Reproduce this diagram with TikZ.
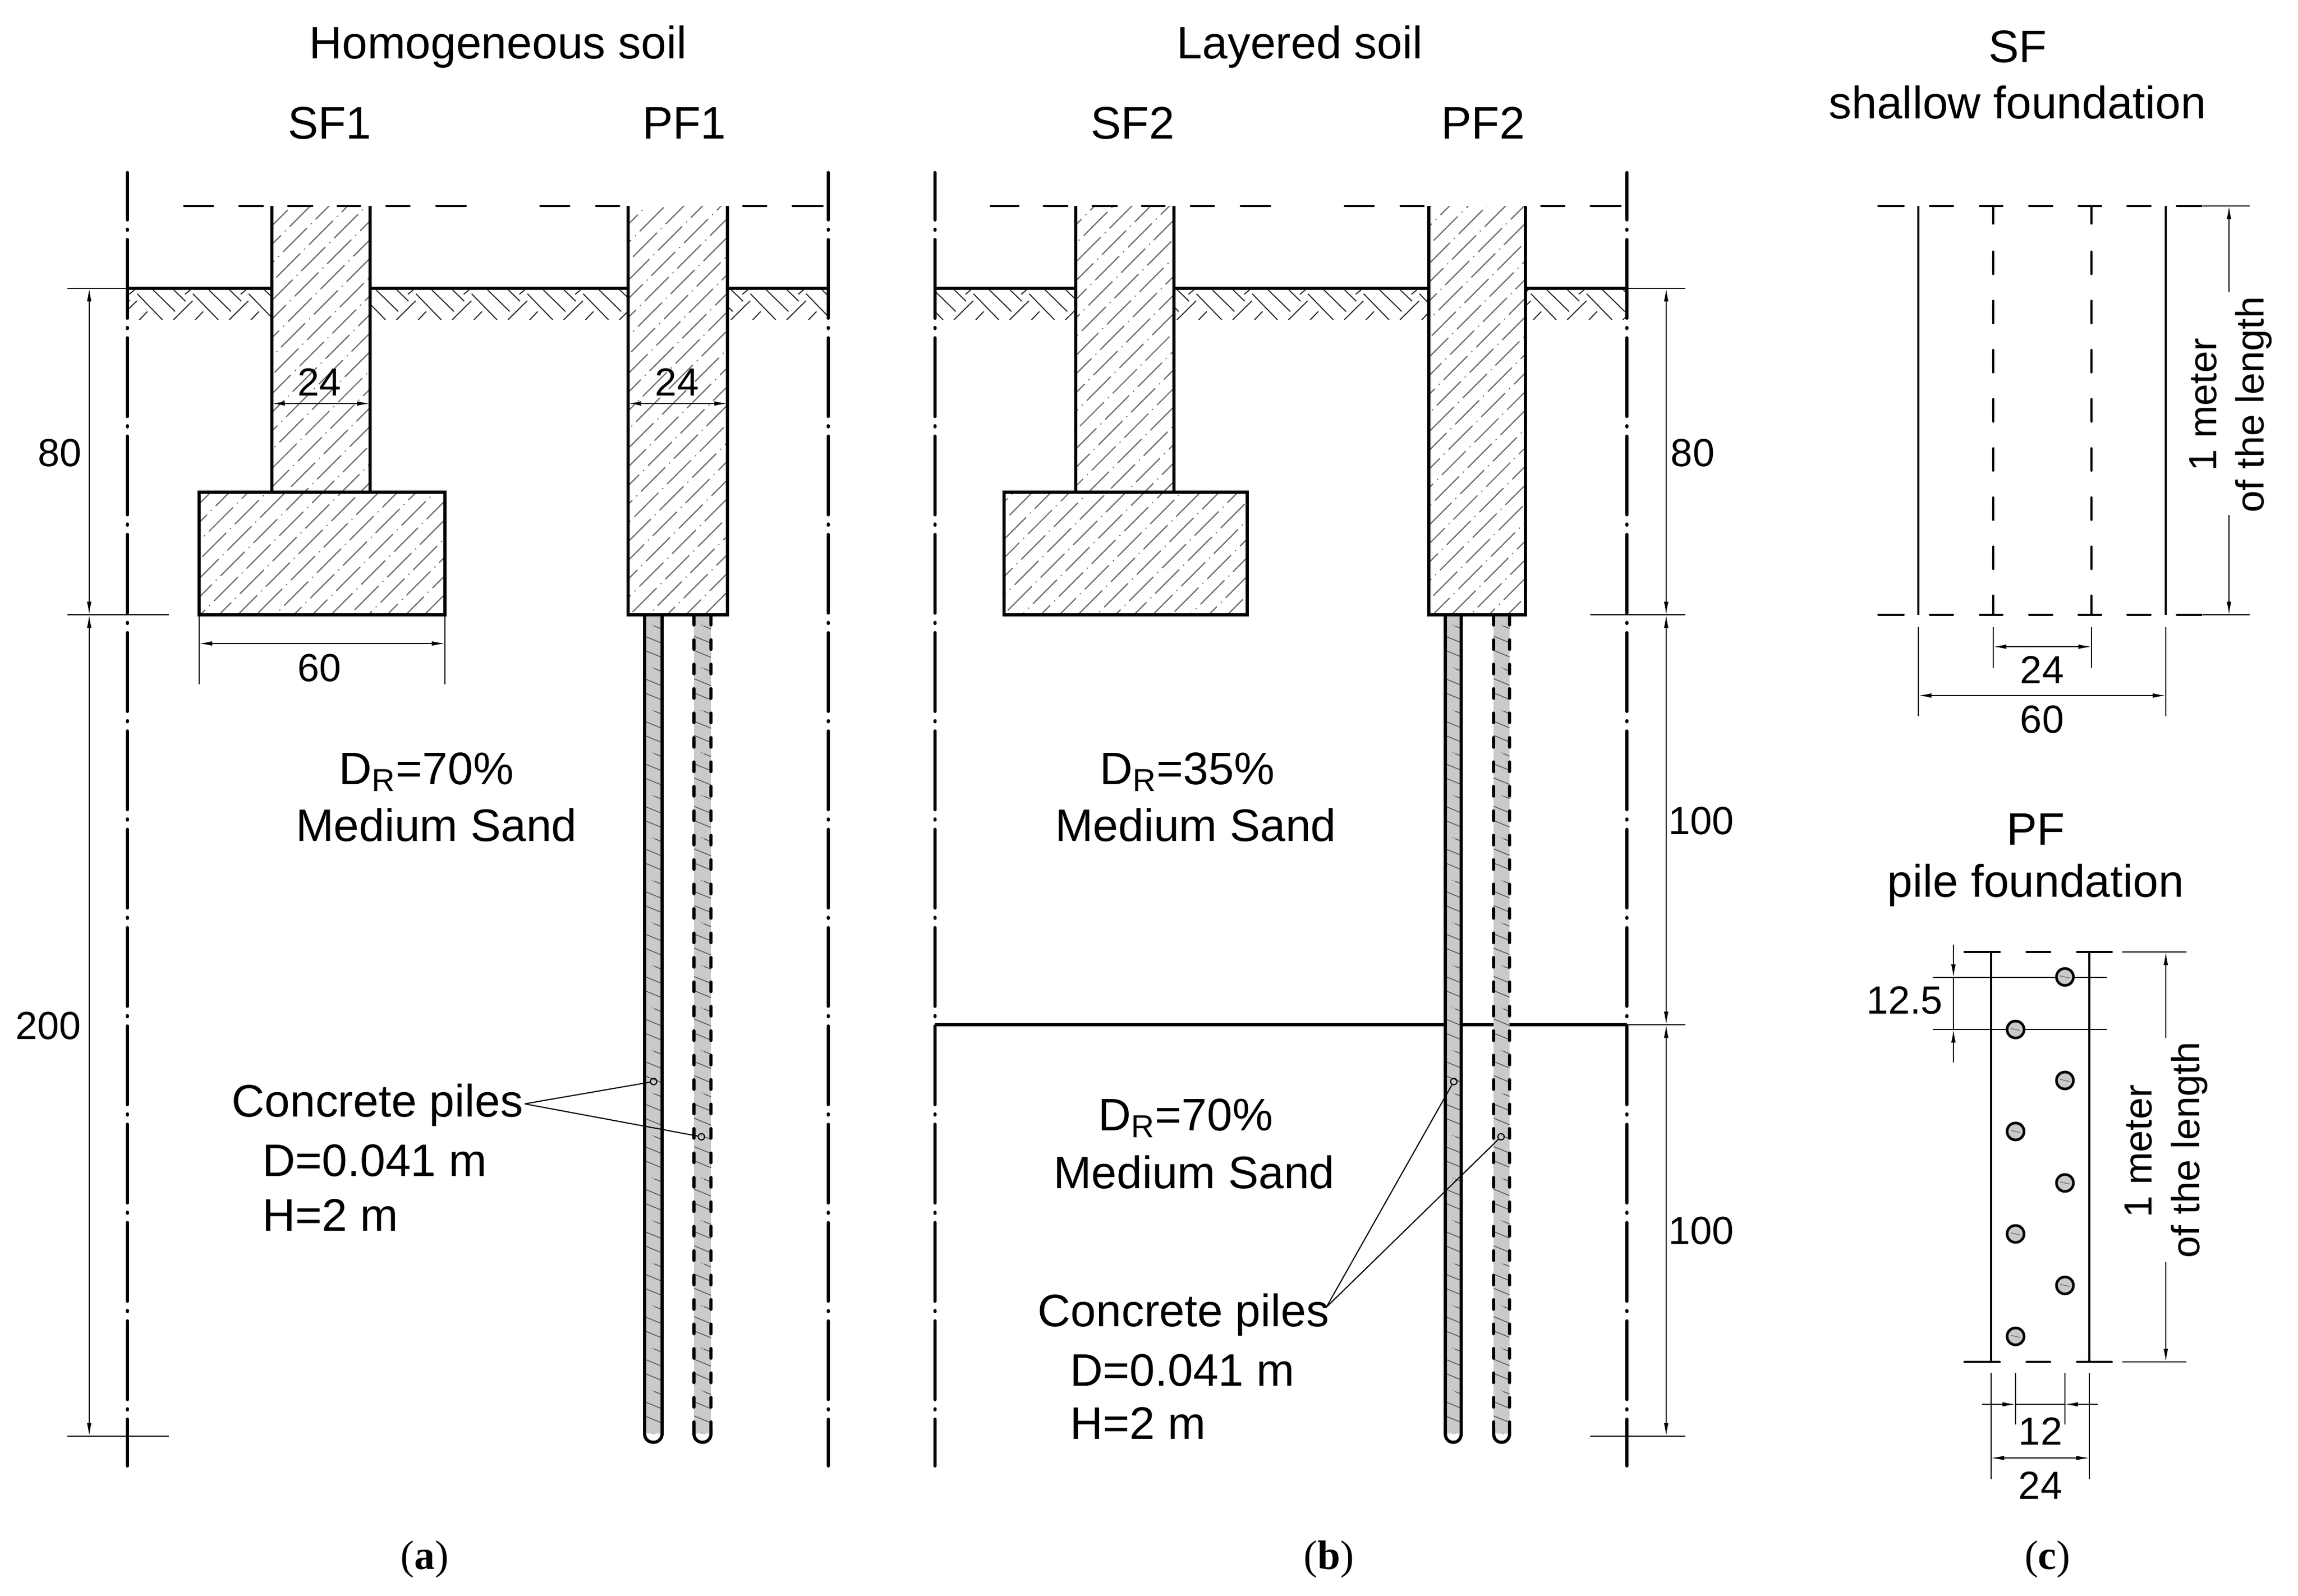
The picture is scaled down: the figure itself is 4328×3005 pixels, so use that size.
\documentclass[tikz,border=0pt]{standalone}
\usepackage{fontspec}
\setmainfont{Liberation Sans}
\newfontfamily\serifpanel{Liberation Serif}
\usetikzlibrary{arrows.meta}
\definecolor{pilegray}{HTML}{C9CACC}
\definecolor{hatchgray}{HTML}{666666}
\newcommand{\bigtxt}{\fontsize{24.4}{29}\selectfont}
\newcommand{\dimtxt}{\fontsize{21}{25}\selectfont}
\tikzset{
  axisline/.style={line width=1.7pt,line cap=round,dash pattern=on 42.16pt off 4.96pt on 0.57pt off 4.96pt,dash phase=16.8pt},
  heavy/.style={line width=1.45pt},
  medium/.style={line width=1.25pt,line cap=round},
  dimthin/.style={line width=0.5pt},
  dimarrow/.style={line width=0.5pt,{Latex[length=7pt,width=2.4pt]}-{Latex[length=7pt,width=2.4pt]}},
  tipend/.style={line width=0.5pt,-{Latex[length=7pt,width=2.4pt]}},
  conchatch/.style={line width=0.6pt,color=hatchgray,dash pattern=on 17.87pt off 3.3pt on 0.3pt off 3.3pt,line cap=round},
  soilhatch/.style={line width=0.55pt,color=black!85},
  pilehatch/.style={line width=0.45pt,color=black!65},
  bigtext/.style={font=\bigtxt,inner sep=0pt,align=center},
  dimtext/.style={font=\dimtxt,inner sep=0pt,align=center},
  pin/.style={circle,draw,line width=0.6pt,minimum size=3.4pt,inner sep=0pt},
  leader/.style={line width=0.6pt},
  stud/.style={draw,line width=1.4pt,fill=pilegray}
}
% concrete hatch
\newcommand{\concrete}[4]{%
  \begin{scope}
  \clip (#1,#2) rectangle (#3,#4);
  \pgfmathtruncatemacro{\kmin}{floor((#1+#2-1359.3)/35.17)}
  \pgfmathtruncatemacro{\kmax}{ceil((#3+#4-1359.3)/35.17)}
  \foreach \k in {\kmin,...,\kmax}{
    \pgfmathsetmacro{\cc}{1359.3+35.17*\k}
    \pgfmathsetmacro{\xz}{405-12.67*\k}
    \pgfmathsetmacro{\xa}{\xz-60*ceil((\xz-(#1)+1)/60)}
    \pgfmathsetmacro{\xb}{#3+2}
    \pgfmathsetmacro{\ya}{\cc-\xa}
    \pgfmathsetmacro{\yb}{\cc-\xb}
    \draw[conchatch] (\xa,\ya) -- (\xb,\yb);
  }
  \end{scope}}
% soil hatch
\newcommand{\soil}[2]{%
  \begin{scope}
  \clip (#1,543) rectangle (#2,602);
  \pgfmathtruncatemacro{\nmin}{floor((#1-230)/105)-2}
  \pgfmathtruncatemacro{\nmax}{floor((#2-230)/105)+1}
  \foreach \n in {\nmin,...,\nmax}{
    \pgfmathsetmacro{\xo}{230+105*\n}
    \begin{scope}[shift={(\xo,520)}]
    \draw[soilhatch] (58.3,26)--(100,66.7) (97.3,26)--(119.3,47.3) (28.3,33.3)--(76,82.3)
      (96.7,82.3)--(132.7,46.7) (32.7,82.3)--(47.7,66.7) (118.3,34.3)--(128.3,26);
    \end{scope}
  }
  \end{scope}}
% pile: left x, right x
\newcommand{\pilefill}[2]{%
  \fill[pilegray] (#1,1158) rectangle (#2,2700);
  \begin{scope}
  \clip (#1,1160) rectangle (#2,2700);
  \foreach \k in {0,...,57}{
    \pgfmathsetmacro{\ya}{1171.5+26.7*\k}
    \pgfmathsetmacro{\yb}{\ya+0.41*(#2-#1)}
    \pgfmathtruncatemacro{\rem}{mod(\k,3)}
    \ifnum\rem=0
      \draw[pilehatch] (#1+14,\ya+5.7) -- ++(1.2,0.5);
      \draw[pilehatch] (#1+18,\ya+7.4) -- (#2,\yb);
    \else
      \draw[pilehatch] (#1,\ya) -- (#2,\yb);
    \fi
  }
  \end{scope}}
\newcommand{\solidpile}[2]{%
  \pilefill{#1}{#2}
  \draw[line width=1.7pt] (#1,1158) -- (#1,2700) .. controls (#1,2722) and (#2,2722) .. (#2,2700) -- (#2,1158);
  }
\newcommand{\dashpile}[2]{%
  \pilefill{#1}{#2}
  \draw[line width=1.7pt,line cap=round,dash pattern=on 5.12pt off 7.97pt] (#1,1159) -- (#1,2688);
  \draw[line width=1.7pt,line cap=round,dash pattern=on 5.12pt off 7.97pt] (#2,1159) -- (#2,2688);
  \draw[line width=1.7pt,line cap=round] (#1,2690) -- (#1,2700) .. controls (#1,2722) and (#2,2722) .. (#2,2700) -- (#2,2690);
  }
\begin{document}
\begin{tikzpicture}[x=0.01cm,y=-0.01cm]
\useasboundingbox (0,0) rectangle (4328,3005);

% ---------- titles
\node[bigtext] (tH) at (938,88) {Homogeneous soil};
\node[bigtext] (tL) at (2448,88) {Layered soil};
\node[bigtext] (tS1) at (621,232) {SF1};
\node[bigtext] (tP1) at (1289,232) {PF1};
\node[bigtext] (tS2) at (2133,232) {SF2};
\node[bigtext] (tP2) at (2793,232) {PF2};
\node[bigtext] (tSF) at (3800,88) {SF};
\node[bigtext] (tSFb) at (3800,193) {shallow foundation};
\node[bigtext] (tPF) at (3834,1562) {PF};
\node[bigtext] (tPFb) at (3834,1667) {pile foundation};

% ---------- hatches panel a
\concrete{512}{388}{697}{927}
\concrete{375}{927}{838}{1158}
\concrete{1183}{388}{1370}{1158}
\soil{240}{512}\soil{697}{1183}\soil{1370}{1560}
% ---------- hatches panel b
\concrete{2026}{388}{2211}{927}
\concrete{1891}{927}{2349}{1158}
\concrete{2691}{388}{2873}{1158}
\soil{1761}{2026}\soil{2211}{2691}\soil{2873}{3064}

% ---------- piles
\solidpile{1214}{1247}
\dashpile{1307}{1339}
\solidpile{2722}{2752}
\dashpile{2813}{2843}

% ---------- axes
\foreach \ax in {240,1560,1761,3064}{
  \draw[axisline] (\ax,325) -- (\ax,2761);
}

% ---------- panel a structure
\draw[heavy] (240,543) -- (512,543) (697,543) -- (1183,543) (1370,543) -- (1560,543);
\draw[heavy] (512,388) -- (512,927) (697,388) -- (697,927);
\draw[heavy] (375,927) rectangle (838,1158);
\draw[heavy] (1183,388) -- (1183,1158) -- (1370,1158) -- (1370,388);
\foreach \a/\b in {347/401,451/495,543/588,636/678,728/771,822/877,1018/1072,1123/1166,1400/1443,1493/1549}{
  \draw[medium] (\a,388) -- (\b,388);
}
% ---------- panel b structure
\draw[heavy] (1761,543) -- (2026,543) (2211,543) -- (2691,543) (2873,543) -- (3064,543);
\draw[heavy] (2026,388) -- (2026,927) (2211,388) -- (2211,927);
\draw[heavy] (1891,927) rectangle (2349,1158);
\draw[heavy] (2691,388) -- (2691,1158) -- (2873,1158) -- (2873,388);
\foreach \a/\b in {1866/1918,1966/2010,2058/2103,2151/2193,2243/2286,2337/2392,2533/2587,2638/2681,2903/2946,2996/3052}{
  \draw[medium] (\a,388) -- (\b,388);
}
\draw[heavy] (1761,1930) -- (2722,1930) (2752,1930) -- (2813,1930) (2843,1930) -- (3064,1930);

% ---------- dimensions panel a
\draw[dimthin] (127,543) -- (240,543) (127,1158) -- (318,1158) (127,2705) -- (318,2705);
\draw[dimarrow] (168,543) -- (168,1158);
\draw[dimarrow] (168,1158) -- (168,2705);
\node[dimtext] (d80a) at (113,853) {80};
\node[dimtext] (d200) at (91,1932) {200};
\draw[dimarrow] (512,760) -- (697,760);
\node[dimtext] (d24a) at (602,720) {24};
\draw[dimarrow] (1183,760) -- (1370,760);
\node[dimtext] (d24b) at (1275,720) {24};
\draw[dimthin] (375,1158) -- (375,1289) (838,1158) -- (838,1289);
\draw[dimarrow] (375,1212) -- (838,1212);
\node[dimtext] (d60a) at (602,1258) {60};

% ---------- dimensions panel b
\draw[dimthin] (3064,543) -- (3174,543) (2995,1158) -- (3174,1158) (3064,1930) -- (3174,1930) (2995,2705) -- (3174,2705);
\draw[dimarrow] (3138,543) -- (3138,1158);
\draw[dimarrow] (3138,1158) -- (3138,1930);
\draw[dimarrow] (3138,1930) -- (3138,2705);
\node[dimtext] (d80b) at (3188,853) {80};
\node[dimtext] (d100a) at (3204,1546) {100};
\node[dimtext] (d100b) at (3204,2318) {100};

% ---------- soil texts
\node[bigtext] (sa1) at (803,1454) {D\textsubscript{R}=70\%};
\node[bigtext] (sa2) at (822,1554) {Medium Sand};
\node[bigtext] (sb1) at (2236,1454) {D\textsubscript{R}=35\%};
\node[bigtext] (sb2) at (2252,1554) {Medium Sand};
\node[bigtext] (sc1) at (2233,2106) {D\textsubscript{R}=70\%};
\node[bigtext] (sc2) at (2249,2208) {Medium Sand};

% ---------- concrete piles labels
\node[bigtext,anchor=west] (cpa) at (436,2081) {Concrete piles};
\node[bigtext,anchor=west] (cpa2) at (494,2186) {D=0.041 m};
\node[bigtext,anchor=west] (cpa3) at (494,2288) {H=2 m};
\node[pin] (pa1) at (1231,2037) {};
\node[pin] (pa2) at (1321,2141) {};
\coordinate (la) at (988,2079);
\draw[leader] (la) -- (pa1);
\draw[leader] (la) -- (pa2);
\node[bigtext,anchor=west] (cpb) at (1954,2476) {Concrete piles};
\node[bigtext,anchor=west] (cpb2) at (2015,2581) {D=0.041 m};
\node[bigtext,anchor=west] (cpb3) at (2015,2680) {H=2 m};
\node[pin] (pb1) at (2738,2037) {};
\node[pin] (pb2) at (2827,2141) {};
\coordinate (lb) at (2498,2462);
\draw[leader] (lb) -- (pb1);
\draw[leader] (lb) -- (pb2);

% ---------- SF plan
\draw[medium,line cap=butt] (3613,388) -- (3613,1158) (4079,388) -- (4079,1158);
\foreach \a/\b in {3538/3585,3635/3678,3729/3771,3822/3865,3915/3957,4007/4050,4100/4146}{
  \draw[medium] (\a,388) -- (\b,388);
  \draw[medium] (\a,1158) -- (\b,1158);
}
\foreach \vx in {3754,3939}{
  \draw[medium] (\vx,388) -- (\vx,421);
  \draw[medium] (\vx,1122) -- (\vx,1158);
  \foreach \n in {0,...,6}{
    \draw[medium] (\vx,474+92.6*\n) -- (\vx,516+92.6*\n);
  }
}
\draw[dimthin] (4149,388) -- (4237,388) (4149,1158) -- (4237,1158);
\coordinate (sfT) at (4198,388);
\coordinate (sfTe) at (4198,550);
\coordinate (sfB) at (4198,1158);
\coordinate (sfBe) at (4198,970);
\draw[tipend] (sfTe) -- (sfT);
\draw[tipend] (sfBe) -- (sfB);
\node[dimtext,rotate=90] (sfm1) at (4149,762) {1 meter};
\node[dimtext,rotate=90] (sfm2) at (4244,762) {of the length};
\draw[dimthin] (3754,1181) -- (3754,1258) (3939,1181) -- (3939,1258);
\draw[dimthin] (3613,1181) -- (3613,1349) (4079,1181) -- (4079,1349);
\draw[dimarrow] (3754,1218) -- (3939,1218);
\draw[dimarrow] (3613,1310) -- (4079,1310);
\node[dimtext] (sf24) at (3846,1262) {24};
\node[dimtext] (sf60) at (3846,1355) {60};

% ---------- PF plan
\draw[medium,line cap=butt] (3750,1793) -- (3750,2565) (3935,1793) -- (3935,2565);
\foreach \a/\b in {3700/3766,3817/3861,3912/3977}{
  \draw[medium] (\a,1793) -- (\b,1793);
  \draw[medium] (\a,2565) -- (\b,2565);
}
\draw[dimthin] (3640,1841) -- (3968,1841) (3640,1939) -- (3968,1939);
\foreach \cx/\cy in {3889/1840,3889/2035,3889/2228,3889/2421,3796/1939,3796/2131,3796/2324,3796/2517}{
  \draw[stud] (\cx,\cy) circle [radius=16];
  \draw[line width=0.4pt,color=black!55] (\cx-9,\cy-2) -- (\cx+9,\cy+2);
}
\coordinate (pdA) at (3679,1779);
\coordinate (pdB) at (3679,1841);
\coordinate (pdC) at (3679,2001);
\coordinate (pdD) at (3679,1939);
\draw[tipend] (pdA) -- (pdB);
\draw[tipend] (pdC) -- (pdD);
\draw[dimthin] (pdB) -- (pdD);
\node[dimtext] (p125) at (3587,1884) {12.5};
\draw[dimthin] (3997,1793) -- (4118,1793) (3997,2565) -- (4118,2565);
\coordinate (pfT) at (4079,1793);
\coordinate (pfTe) at (4079,1955);
\coordinate (pfB) at (4079,2565);
\coordinate (pfBe) at (4079,2377);
\draw[tipend] (pfTe) -- (pfT);
\draw[tipend] (pfBe) -- (pfB);
\node[dimtext,rotate=90] (pfm1) at (4027,2168) {1 meter};
\node[dimtext,rotate=90] (pfm2) at (4123,2166) {of the length};
\draw[dimthin] (3750,2586) -- (3750,2786) (3935,2586) -- (3935,2786);
\draw[dimthin] (3796,2586) -- (3796,2683) (3889,2586) -- (3889,2683);
\coordinate (w1) at (3733,2645);
\coordinate (w2) at (3796,2645);
\coordinate (w3) at (3951,2645);
\coordinate (w4) at (3889,2645);
\draw[tipend] (w1) -- (w2);
\draw[tipend] (w3) -- (w4);
\draw[dimthin] (w2) -- (w4);
\draw[dimarrow] (3750,2746) -- (3935,2746);
\node[dimtext] (p12) at (3843,2696) {12};
\node[dimtext] (p24) at (3843,2798) {24};

% ---------- panel labels
\node[inner sep=0pt,font=\serifpanel\fontsize{22}{26}\selectfont] (la1) at (800,2937) {(\textbf{a})};
\node[inner sep=0pt,font=\serifpanel\fontsize{22}{26}\selectfont] (la2) at (2503,2937) {(\textbf{b})};
\node[inner sep=0pt,font=\serifpanel\fontsize{22}{26}\selectfont] (la3) at (3856,2937) {(\textbf{c})};
\end{tikzpicture}
\end{document}
